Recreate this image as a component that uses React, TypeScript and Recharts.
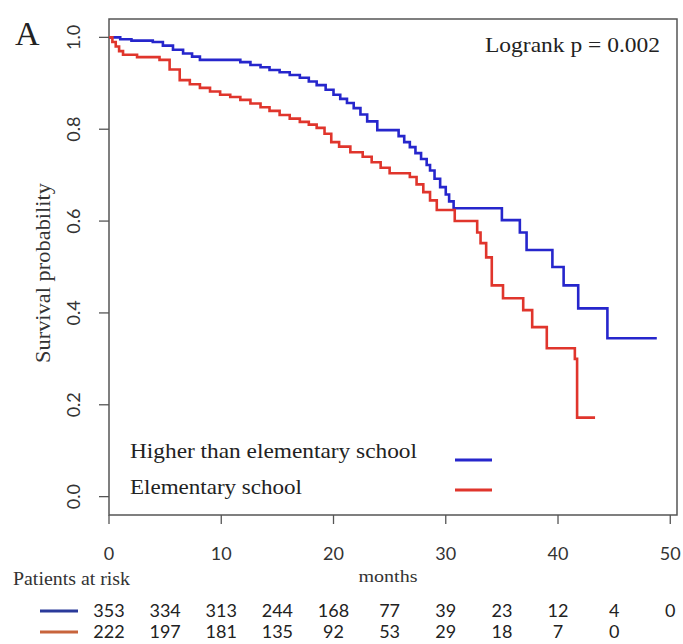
import React from "react";
import { LineChart, Line, XAxis, YAxis, ReferenceArea } from "recharts";

// Kaplan-Meier step points (months, survival probability)
const higherTime = [0, 1, 2, 3.9, 4.8, 5.7, 6.6, 7.4, 8.1, 11.7, 12.6, 13.5, 14.3, 15.2, 16.1, 17.0, 17.8, 18.5, 19.3, 20.0, 20.6, 21.2, 21.8, 22.4, 23.0, 23.9, 25.8, 26.3, 26.8, 27.3, 27.8, 28.3, 28.6, 29.0, 29.5, 30.0, 30.3, 30.7, 35.0, 36.6, 37.2, 39.5, 40.5, 41.8, 44.4, 48.8];
const higherSurv = [1.0, 0.996, 0.993, 0.99, 0.982, 0.973, 0.965, 0.958, 0.951, 0.946, 0.94, 0.935, 0.929, 0.924, 0.918, 0.912, 0.904, 0.896, 0.886, 0.875, 0.866, 0.857, 0.846, 0.832, 0.817, 0.798, 0.785, 0.772, 0.761, 0.748, 0.735, 0.722, 0.71, 0.692, 0.674, 0.658, 0.643, 0.628, 0.602, 0.575, 0.537, 0.5, 0.46, 0.41, 0.345, 0.345];

const elemTime = [0, 0.3, 0.6, 0.9, 1.25, 2.5, 4.5, 5.4, 6.3, 7.2, 8.1, 9.0, 9.9, 10.8, 11.7, 12.6, 13.5, 14.3, 15.2, 16.1, 17.0, 17.8, 18.5, 19.2, 19.8, 20.5, 21.5, 22.6, 23.4, 24.2, 25.0, 26.8, 27.4, 28.0, 28.6, 29.2, 30.8, 32.8, 33.1, 33.6, 34.1, 35.1, 36.9, 37.7, 39.0, 41.5, 41.7, 43.3];
const elemSurv = [1.0, 0.99, 0.98, 0.97, 0.962, 0.957, 0.951, 0.93, 0.907, 0.898, 0.89, 0.882, 0.875, 0.87, 0.864, 0.856, 0.848, 0.84, 0.831, 0.823, 0.816, 0.81, 0.803, 0.79, 0.772, 0.762, 0.75, 0.74, 0.728, 0.716, 0.704, 0.696, 0.68, 0.663, 0.645, 0.624, 0.6, 0.575, 0.552, 0.521, 0.46, 0.432, 0.406, 0.369, 0.323, 0.3, 0.172, 0.172];

const xTicks = [0, 10, 20, 30, 40, 50];
const yTicks = [0, 0.2, 0.4, 0.6, 0.8, 1.0];
const riskTimes = [0, 5, 10, 15, 20, 25, 30, 35, 40, 45, 50];
const riskHigher = [353, 334, 313, 244, 168, 77, 39, 23, 12, 4, 0];
const riskElem = [222, 197, 181, 135, 92, 53, 29, 18, 7, 0];

const groupNames = ["Higher than elementary school", "Elementary school"];

const higherData = higherTime.map((t, i) => ({ t, s: higherSurv[i] }));
const elemData = elemTime.map((t, i) => ({ t, s: elemSurv[i] }));
const riskHigherData = riskHigher.map((n, i) => ({ t: riskTimes[i], n, s: null }));
const riskElemData = riskElem.map((n, i) => ({ t: riskTimes[i], n, s: null }));

const X_MAX = 50.6;
const Y_MIN = -0.04;
const Y_MAX = 1.04;
const BLUE = "#2626cc";
const RED = "#e0352c";
const NUM_FONT = "'Liberation Sans Narrow', 'Lato', sans-serif";
const SERIF = "'Liberation Serif', 'DejaVu Serif', serif";

const YTick = (props: any) => {
  const { x, y, payload } = props;
  return (
    <text
      x={x}
      y={y}
      transform={`rotate(-90, ${x}, ${y})`}
      textAnchor="middle"
      fontSize={18}
      fontFamily={NUM_FONT}
      fill="#333"
    >
      {Number(payload.value).toFixed(1)}
    </text>
  );
};

export default function App() {
  return (
    <div style={{ position: "absolute", left: 0, top: 0, width: 683, height: 644, background: "#fff" }}>
      <LineChart
        width={683}
        height={644}
        margin={{ top: 19, right: 6, left: 0, bottom: 7 }}
        style={{ position: "absolute", left: 0, top: 0 }}
      >
        <XAxis
          xAxisId="main"
          dataKey="t"
          type="number"
          domain={[0, X_MAX]}
          ticks={xTicks}
          allowDataOverflow
          axisLine={false}
          tickSize={9}
          tickMargin={23}
          height={80}
          interval={0}
          tickLine={{ stroke: "#555", strokeWidth: 1.3 }}
          tick={{ fontSize: 18, fontFamily: NUM_FONT, fill: "#333" }}
        />
        <XAxis
          xAxisId="r1"
          dataKey="t"
          type="number"
          domain={[0, X_MAX]}
          ticks={riskTimes}
          allowDataOverflow
          axisLine={false}
          tickLine={false}
          tickSize={0}
          tickMargin={9}
          height={21}
          interval={0}
          tickFormatter={(v: number) => String(riskHigher[riskTimes.indexOf(v)])}
          tick={{ fontSize: 18, fontFamily: NUM_FONT, fill: "#222" }}
        />
        <XAxis
          xAxisId="r2"
          dataKey="t"
          type="number"
          domain={[0, X_MAX]}
          ticks={riskTimes.slice(0, riskElem.length)}
          allowDataOverflow
          axisLine={false}
          tickLine={false}
          tickSize={0}
          tickMargin={9}
          height={21}
          interval={0}
          tickFormatter={(v: number) => String(riskElem[riskTimes.indexOf(v)])}
          tick={{ fontSize: 18, fontFamily: NUM_FONT, fill: "#222" }}
        />
        <YAxis
          type="number"
          domain={[Y_MIN, Y_MAX]}
          ticks={yTicks}
          allowDataOverflow
          width={109}
          axisLine={false}
          tickSize={10}
          tickMargin={19}
          interval={0}
          tickLine={{ stroke: "#555", strokeWidth: 1.3 }}
          tick={<YTick />}
        />
        <ReferenceArea
          xAxisId="main"
          x1={0}
          x2={X_MAX}
          y1={Y_MIN}
          y2={Y_MAX}
          fill="none"
          fillOpacity={0}
          stroke="#555"
          strokeWidth={1.5}
          ifOverflow="visible"
        />
        <Line
          xAxisId="r1"
          data={riskHigherData}
          dataKey="s"
          stroke="none"
          dot={false}
          activeDot={false}
          legendType="none"
          isAnimationActive={false}
        />
        <Line
          xAxisId="r2"
          data={riskElemData}
          dataKey="s"
          stroke="none"
          dot={false}
          activeDot={false}
          legendType="none"
          isAnimationActive={false}
        />
        <Line
          xAxisId="main"
          data={higherData}
          dataKey="s"
          type="stepAfter"
          stroke={BLUE}
          strokeWidth={2.6}
          dot={false}
          activeDot={false}
          isAnimationActive={false}
        />
        <Line
          xAxisId="main"
          data={elemData}
          dataKey="s"
          type="stepAfter"
          stroke={RED}
          strokeWidth={2.6}
          dot={false}
          activeDot={false}
          isAnimationActive={false}
        />
      </LineChart>
      <svg
        width={683}
        height={644}
        style={{ position: "absolute", left: 0, top: 0, pointerEvents: "none" }}
      >
        <text x={15} y={45} fontSize={34} fontFamily={SERIF} fill="#222">A</text>
        <text x={485} y={52} fontSize={22} fontFamily={SERIF} fill="#222" textLength={175} lengthAdjust="spacingAndGlyphs">
          Logrank p = 0.002
        </text>
        <text x={130} y={458} fontSize={21} fontFamily={SERIF} fill="#222" textLength={287} lengthAdjust="spacingAndGlyphs">
          {groupNames[0]}
        </text>
        <text x={130} y={494} fontSize={21} fontFamily={SERIF} fill="#222" textLength={172} lengthAdjust="spacingAndGlyphs">
          {groupNames[1]}
        </text>
        <line x1={455} x2={492} y1={460} y2={460} stroke={BLUE} strokeWidth={3} />
        <line x1={455} x2={492} y1={490} y2={490} stroke={RED} strokeWidth={3} />
        <text
          x={50}
          y={273}
          transform="rotate(-90, 50, 273)"
          textAnchor="middle"
          fontSize={20}
          fontFamily={SERIF}
          fill="#333"
          textLength={180}
          lengthAdjust="spacingAndGlyphs"
        >
          Survival probability
        </text>
        <text x={388} y={582} textAnchor="middle" fontSize={17} fontFamily={SERIF} fill="#333" textLength={59} lengthAdjust="spacingAndGlyphs">
          months
        </text>
        <text x={13} y={585} fontSize={19} fontFamily={SERIF} fill="#333" textLength={117} lengthAdjust="spacingAndGlyphs">
          Patients at risk
        </text>
        <line x1={40} x2={78} y1={611} y2={611} stroke="#2a3a9a" strokeWidth={3} />
        <line x1={40} x2={78} y1={632} y2={632} stroke="#c8643c" strokeWidth={3} />
      </svg>
    </div>
  );
}
